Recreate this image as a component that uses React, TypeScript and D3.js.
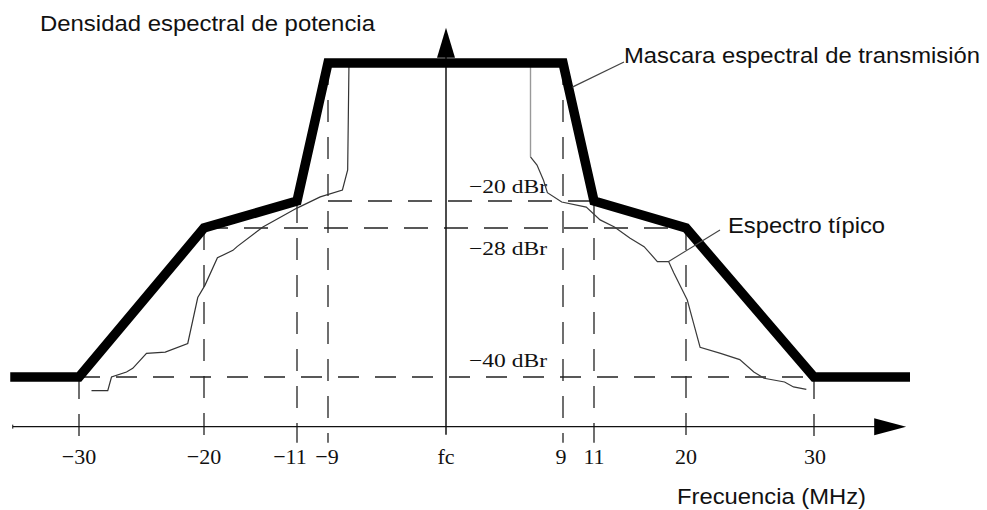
import React from "react";
import * as d3 from "d3";

// ---- data ----
const freqTicks = [-30, -20, -11, -9, 0, 9, 11, 20, 30];
const tickLabels = ["\u221230", "\u221220", "\u221211", "\u22129", "fc", "9", "11", "20", "30"];
const levelMarks = [-40, -28, -20, 0];
const levelLabels = ["\u221240 dBr", "\u221228 dBr", "\u221220 dBr"];

const maskFreq = [-35.5, -30, -20, -11, -9, 9, 11, 20, 30, 37.5];
const maskLevel = [-40, -40, -28, -20, 0, 0, -20, -28, -40, -40];

const spectrumFreq = [
  -29.0, -27.7, -27.4, -26.2, -25.7, -24.6, -23.1, -21.3, -20.5, -19.9, -18.7, -17.2, -16.8, -14.3, -11.0, -9.5, -7.9, -7.5, -7.4,
  6.5, 6.5, 7.0, 7.5, 7.8, 8.9, 10.5, 11.6, 13.0, 14.5, 15.9, 17.2, 18.3, 18.8, 20.1, 20.6, 21.1, 22.7, 24.2, 25.3, 26.1, 27.7, 28.4, 29.4,
];
const spectrumLevel = [
  -41.1, -41.1, -40.0, -39.6, -39.3, -38.1, -38.0, -37.3, -33.6, -32.6, -30.4, -29.8, -29.5, -27.7, -22.1, -19.4, -18.4, -15.5, 0,
  0, -13.6, -14.8, -17.0, -18.8, -20.3, -21.8, -25.6, -27.7, -28.8, -29.5, -30.7, -30.7, -31.6, -33.8, -35.7, -37.6, -38.1, -38.6, -39.6, -40.1, -40.4, -40.8, -41.0,
];

// dashed reference lines: [level, fromFreq, toFreq]
const hLevels = [-20, -28, -40];
const hFrom = [-9, -20, -30];
const hTo = [11, 20, 30];
// vertical dashed lines: top level for each tick
const vTop = [-40, -28, -20, 0, null, 0, -20, -28, -40];

const axisLevel = -44;
const axisBottomLevel = -45.3;
const axisFreqStart = -35.3;
const axisFreqEnd = 37.2;
const topLevel = 5.1;
const leaderSpectrum = [18.3, -30.7];
const leaderMask = [9.6, -3.5];

export default function App() {
  const W = 987;
  const H = 510;
  const x = d3
    .scaleLinear()
    .domain(freqTicks)
    .range([79, 204, 297, 328, 446, 563, 594, 686, 814]);
  const y = d3.scaleLinear().domain(levelMarks).range([377, 228, 201, 63]);

  const maskData = maskFreq.map((f, i) => [f, maskLevel[i]] as [number, number]);
  const specData = spectrumFreq.map((f, i) => [f, spectrumLevel[i]] as [number, number]);
  const specLeft = specData.slice(0, 19);
  const specTopRight = specData.slice(19, 21);
  const specRight = specData.slice(20);
  const line = d3
    .line<[number, number]>()
    .x((d) => x(d[0]))
    .y((d) => y(d[1]));

  const axY = y(axisLevel);
  const axX0 = x(axisFreqStart);
  const axX1 = x(axisFreqEnd);
  const cx = x(0);
  const topY = y(topLevel);
  const bottomY = y(axisBottomLevel);

  const sans = "'Liberation Sans', Arial, sans-serif";
  const serif = "'Liberation Serif', 'Times New Roman', serif";
  const dashColor = "#222";

  const specLeader = [x(leaderSpectrum[0]), y(leaderSpectrum[1])];
  const maskLead = [x(leaderMask[0]), y(leaderMask[1])];

  const levelLabelFor = (lv: number) => levelLabels[[-40, -28, -20].indexOf(lv)];

  return (
    <svg
      width={W}
      height={H}
      viewBox={`0 0 ${W} ${H}`}
      style={{ position: "absolute", left: 0, top: 0, background: "#fff" }}
    >
      <rect x={0} y={0} width={W} height={H} fill="#fff" />

      {/* horizontal dashed lines */}
      {hLevels.map((lv, i) => (
        <line
          key={"h" + i}
          x1={x(hFrom[i])}
          x2={x(hTo[i])}
          y1={y(lv)}
          y2={y(lv)}
          stroke={dashColor}
          strokeWidth={1.3}
          strokeDasharray={lv === -40 ? "21,16" : "24,16"}
        />
      ))}

      {/* vertical dashed lines */}
      {freqTicks.map((f, i) =>
        vTop[i] === null ? null : (
          <line
            key={"v" + i}
            x1={x(f)}
            x2={x(f)}
            y1={y(vTop[i] as number)}
            y2={bottomY}
            stroke={dashColor}
            strokeWidth={1.3}
            strokeDasharray="22,15"
          />
        )
      )}

      {/* x axis */}
      <line x1={axX0} x2={axX1 - 25} y1={axY} y2={axY} stroke="#111" strokeWidth={1.4} />
      <line x1={axX0} x2={axX0} y1={axY - 2} y2={axY + 2} stroke="#111" strokeWidth={1} />
      <path
        d={`M${axX1 - 32},${axY - 8.5} L${axX1},${axY} L${axX1 - 32},${axY + 8.5} Z`}
        fill="#000"
      />

      {/* y axis */}
      <line x1={cx} x2={cx} y1={topY + 20} y2={bottomY - 8} stroke="#111" strokeWidth={1.5} />
      <path d={`M${cx - 9},${topY + 30} L${cx},${topY} L${cx + 9},${topY + 30} Z`} fill="#000" />

      {/* typical spectrum */}
      <path d={line(specLeft) || ""} fill="none" stroke="#333" strokeWidth={1.2} />
      <path d={line(specTopRight) || ""} fill="none" stroke="#999" strokeWidth={1.4} />
      <path d={line(specRight) || ""} fill="none" stroke="#3a3a3a" strokeWidth={1.2} />

      {/* mask */}
      <path
        d={line(maskData) || ""}
        fill="none"
        stroke="#000"
        strokeWidth={9.5}
        strokeLinejoin="miter"
        strokeMiterlimit={4}
      />

      {/* leaders */}
      <line x1={maskLead[0]} y1={maskLead[1]} x2={624} y2={62} stroke="#444" strokeWidth={1.2} />
      <line x1={specLeader[0]} y1={specLeader[1]} x2={720} y2={230} stroke="#444" strokeWidth={1.1} />

      {/* tick labels */}
      {freqTicks.map((f, i) => (
        <text
          key={"t" + i}
          x={x(f) + (f === -11 ? -7 : f === -9 ? -1 : f === 9 ? -2 : f === 30 ? 1 : 0)}
          y={464}
          textAnchor="middle"
          fontFamily={serif}
          fontSize={22}
          fill="#111"
        >
          {tickLabels[i]}
        </text>
      ))}

      {/* level labels */}
      {hLevels.map((lv, i) => (
        <text
          key={"l" + i}
          x={cx + 23}
          y={y(lv) + (lv === -40 ? -10 : lv === -28 ? 27 : -8)}
          fontFamily={serif}
          fontSize={19}
          fill="#111"
          textLength={78}
          lengthAdjust="spacingAndGlyphs"
        >
          {levelLabelFor(lv)}
        </text>
      ))}

      {/* titles */}
      <text x={40} y={31} fontFamily={sans} fontSize={22} fill="#111" textLength={335} lengthAdjust="spacingAndGlyphs">
        Densidad espectral de potencia
      </text>
      <text x={624} y={63} fontFamily={sans} fontSize={22} fill="#111" textLength={356} lengthAdjust="spacingAndGlyphs">
        Mascara espectral de transmisión
      </text>
      <text x={728} y={233} fontFamily={sans} fontSize={22} fill="#111" textLength={157} lengthAdjust="spacingAndGlyphs">
        Espectro típico
      </text>
      <text x={677} y={504} fontFamily={sans} fontSize={22} fill="#111" textLength={189} lengthAdjust="spacingAndGlyphs">
        Frecuencia (MHz)
      </text>
    </svg>
  );
}
